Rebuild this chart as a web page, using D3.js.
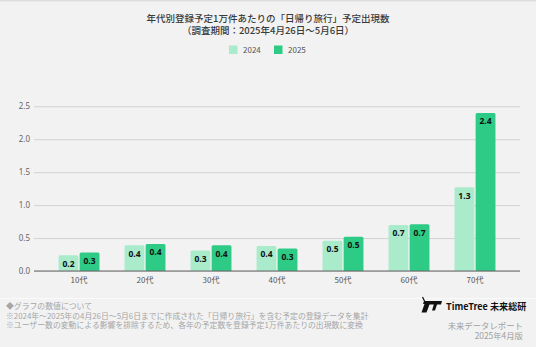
<!DOCTYPE html>
<html><head><meta charset="utf-8">
<script src="https://cdn.jsdelivr.net/npm/d3@7"></script>
<style>
html,body{margin:0;padding:0;background:#f2f2f2;}
svg{display:block;font-family:"Noto Sans CJK JP","Noto Sans",sans-serif;}
</style></head>
<body>
<script>
const categories = ["10代","20代","30代","40代","50代","60代","70代"];
const seriesNames = ["2024","2025"];
const values2024 = [0.24,0.39,0.31,0.38,0.46,0.70,1.27];
const values2025 = [0.28,0.41,0.39,0.34,0.52,0.71,2.40];
const yTicks = [0,0.5,1.0,1.5,2.0,2.5];
const titleLines = ["年代別登録予定1万件あたりの「日帰り旅行」予定出現数","（調査期間：2025年4月26日～5月6日）"];
const noteLines = ["◆グラフの数値について","※2024年～2025年の4月26日～5月6日までに作成された「日帰り旅行」を含む予定の登録データを集計","※ユーザー数の変動による影響を排除するため、各年の予定数を登録予定1万件あたりの出現数に変換"];
const brandLines = ["未来データレポート","2025年4月版"];
const colors = {"2024":"#aaebcc","2025":"#2ecb87"};

const W=536,H=347;
const svg=d3.select("body").append("svg").attr("width",W).attr("height",H);
svg.append("rect").attr("width",W).attr("height",H).attr("fill","#f2f2f2");
svg.append("rect").attr("width",W).attr("height",1.5).attr("fill","#dddddd");
svg.append("rect").attr("y",298).attr("width",W).attr("height",1).attr("fill","#fafafa");

// title
svg.selectAll("text.title").data(titleLines).join("text")
  .attr("x",268).attr("y",(d,i)=>22+i*11.5).attr("text-anchor","middle")
  .attr("font-size",9.5).attr("font-weight",500).attr("fill","#3a3a3a").text(d=>d);

// legend
const lg=svg.append("g");
[[229,"2024"],[274,"2025"]].forEach(([x,s])=>{
  lg.append("rect").attr("x",x).attr("y",45.5).attr("width",8.5).attr("height",8.5).attr("fill",colors[s]);
  lg.append("text").attr("x",x+14).attr("y",53).attr("font-size",8).attr("fill","#555").text(s);
});

const y=d3.scaleLinear().domain([0,2.5]).range([271,106.3]);
const x0=d3.scaleBand().domain(categories).range([34,520]).paddingInner(0.38).paddingOuter(0.372);
const x1=d3.scaleBand().domain(seriesNames).range([0,x0.bandwidth()]).paddingInner(0.06);

// grid
const yAxis=d3.axisLeft(y).tickValues(yTicks).tickFormat(d3.format(".1f")).tickSize(-486).tickPadding(4);
const gy=svg.append("g").attr("transform","translate(34,0)").call(yAxis);
gy.select(".domain").remove();
gy.selectAll(".tick line").attr("stroke","#d2d2d2").attr("stroke-width",1);
gy.selectAll(".tick text").attr("font-size",8).attr("fill","#666").attr("font-family","'Noto Sans',sans-serif");

// bars
const data=categories.map((c,i)=>({c,v:[{s:"2024",v:values2024[i]},{s:"2025",v:values2025[i]}]}));
const g=svg.append("g");
const groups=g.selectAll("g").data(data).join("g").attr("transform",d=>`translate(${x0(d.c)},0)`);
groups.selectAll("path").data(d=>d.v).join("path")
  .attr("d",d=>{const xx=x1(d.s),w=x1.bandwidth(),t=y(d.v),b=y(0),r=1.5;
    return `M${xx},${b}V${t+r}Q${xx},${t} ${xx+r},${t}H${xx+w-r}Q${xx+w},${t} ${xx+w},${t+r}V${b}Z`;})
  .attr("fill",d=>colors[d.s]);
groups.selectAll("text").data(d=>d.v).join("text")
  .attr("x",d=>x1(d.s)+x1.bandwidth()/2).attr("y",d=>y(d.v)+11.5)
  .attr("text-anchor","middle").attr("font-size",8.5).attr("font-weight","bold").attr("fill","#111")
  .attr("font-family","'Noto Sans',sans-serif")
  .text(d=>d3.format(".1f")(d.v));

// x axis
const xAxis=d3.axisBottom(x0).tickSize(0).tickPadding(6);
const gx=svg.append("g").attr("transform","translate(0,271)").call(xAxis);
gx.select(".domain").attr("d","M34,0H520").attr("stroke","#666").attr("stroke-width",1);
gx.selectAll(".tick text").attr("font-size",8).attr("fill","#555").attr("font-family","'Noto Sans CJK JP',sans-serif");

// notes
svg.selectAll("text.note").data(noteLines).join("text")
  .attr("x",6).attr("y",(d,i)=>309+i*9.5).attr("font-size",7.85).attr("fill","#a6a6a6").text(d=>d);

// brand logo
svg.append("path").attr("d","M421.5,312.5 L424.5,304 L423,304 L424,301 L442,301 L441,304.5 L437,304.5 L435,310.5 L432,310.5 L433.8,304.5 L429.5,304.5 L426.5,312.5 Z").attr("fill","#111");
svg.append("path").attr("d","M424.5,301 L422.5,297").attr("stroke","#111").attr("stroke-width",1.2);
svg.append("text").attr("x",446).attr("y",310).attr("font-size",9.1).attr("font-weight","bold").attr("fill","#111").text("TimeTree 未来総研");
svg.selectAll("text.brand").data(brandLines).join("text")
  .attr("x",523).attr("y",(d,i)=>328.5+i*10.5).attr("text-anchor","end").attr("font-size",8.4).attr("fill","#a0a0a0").text(d=>d);
</script>
</body></html>
